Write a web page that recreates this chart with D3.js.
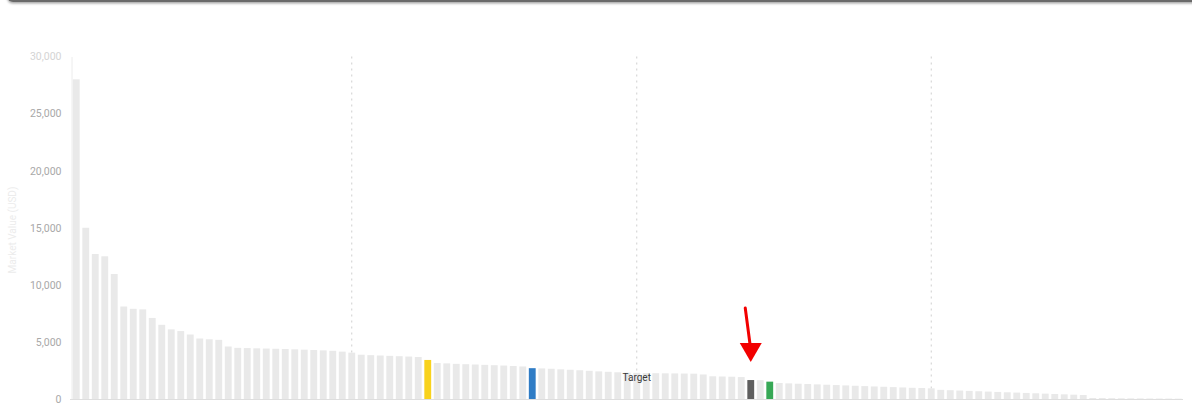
<!DOCTYPE html>
<html>
<head>
<meta charset="utf-8">
<script src="https://cdn.jsdelivr.net/npm/d3@7"></script>
<style>
  body { margin: 0; background: #fff; font-family: Roboto, "Noto Sans", sans-serif; }
  svg { display: block; }
</style>
</head>
<body>
<svg id="chart" width="1192" height="403"></svg>
<script>
// Ranked values, largest first
const values = [
  28000, 15000, 12700, 12500, 10950, 8100, 7900, 7850, 7100, 6500,
  6100, 5950, 5650, 5300, 5230, 5180, 4600, 4480, 4460, 4440,
  4420, 4400, 4380, 4350, 4320, 4290, 4260, 4220, 4150, 4060,
  3880, 3840, 3810, 3780, 3750, 3720, 3680, 3420, 3150, 3120,
  3080, 3050, 3020, 2990, 2960, 2930, 2890, 2850, 2700, 2680,
  2650, 2600, 2560, 2520, 2470, 2420, 2380, 2340, 2310, 2290,
  2270, 2260, 2250, 2240, 2230, 2220, 2150, 1990, 1970, 1950,
  1920, 1660, 1650, 1520, 1400, 1370, 1340, 1310, 1280, 1250,
  1220, 1190, 1160, 1130, 1100, 1070, 1040, 1010, 980, 960,
  935, 800, 770, 740, 710, 680, 650, 620, 590, 560,
  530, 500, 470, 440, 410, 380, 350, 90, 80, 70,
  60, 55, 50, 45, 40, 35, 30
];

// Bars singled out with their own colour
const highlightIdx = [37, 48, 71, 73];
const highlightColors = ["#f8d21c", "#2f7cc5", "#5e5e5e", "#37a856"];

// Dotted vertical guides and the labelled one
const guideIdx = [29, 59, 90];
const targetIdx = 59;
const targetLabel = "Target";

// Bar pointed at by the red arrow
const arrowIdx = 71;

const yTicks = [0, 5000, 10000, 15000, 20000, 25000, 30000];
const yTitle = "Market Value (USD)";

const svg = d3.select("#chart");

// Card edge across the top
const defs = svg.append("defs");
const sh = defs.append("filter").attr("id", "cardShadow")
  .attr("x", "-5%").attr("y", "-50%").attr("width", "110%").attr("height", "300%");
sh.append("feDropShadow").attr("dx", 0).attr("dy", 1.5).attr("stdDeviation", 1.2)
  .attr("flood-color", "#000").attr("flood-opacity", 0.35);
svg.append("rect")
  .attr("x", 7).attr("y", -30).attr("width", 1200).attr("height", 32)
  .attr("rx", 6).attr("fill", "#6a6a6a").attr("filter", "url(#cardShadow)");

const x = d3.scaleBand()
  .domain(d3.range(values.length))
  .range([71.5, 1183])
  .paddingInner(0.28)
  .paddingOuter(0.14);

const y = d3.scaleLinear().domain([0, 30000]).range([399, 56.5]);

const cx = i => x(i) + x.bandwidth() / 2;

// Y axis
const yAxis = svg.append("g")
  .attr("transform", "translate(71.5,0)")
  .call(d3.axisLeft(y).tickValues(yTicks).tickFormat(d3.format(",")).tickSize(0).tickPadding(10));
yAxis.select(".domain").attr("stroke", "#ececec").attr("stroke-width", 1);
yAxis.selectAll("text")
  .attr("fill", d => d === 30000 ? "#d4d4d4" : "#a8a8a8")
  .attr("font-size", 10.5)
  .attr("font-family", "Roboto, sans-serif");

svg.append("text")
  .attr("transform", "translate(16,230) rotate(-90)")
  .attr("text-anchor", "middle")
  .attr("fill", "#ececec")
  .attr("font-size", 10)
  .text(yTitle);

// Dotted guides
svg.append("g").selectAll("line")
  .data(guideIdx)
  .join("line")
  .attr("x1", d => cx(d)).attr("x2", d => cx(d))
  .attr("y1", y(30000)).attr("y2", y(0))
  .attr("stroke", "#cfcfcf")
  .attr("stroke-width", 1)
  .attr("stroke-dasharray", "2,4");

// Bars
const colorOf = i => {
  const k = highlightIdx.indexOf(i);
  return k >= 0 ? highlightColors[k] : "#e9e9e9";
};
svg.append("g").selectAll("rect")
  .data(values)
  .join("rect")
  .attr("x", (d, i) => x(i))
  .attr("y", d => y(d))
  .attr("width", x.bandwidth())
  .attr("height", d => y(0) - y(d))
  .attr("fill", (d, i) => colorOf(i));

// Baseline
svg.append("line")
  .attr("x1", 70).attr("x2", 1183)
  .attr("y1", y(0) + 0.5).attr("y2", y(0) + 0.5)
  .attr("stroke", "#dedede").attr("stroke-width", 1);

// Target label
svg.append("text")
  .attr("x", cx(targetIdx))
  .attr("y", y(values[targetIdx]) + 8)
  .attr("text-anchor", "middle")
  .attr("fill", "#3a3a3a")
  .attr("font-size", 10)
  .text(targetLabel);

// Red arrow pointing at the marked bar
const ax = cx(arrowIdx);
const tipY = y(values[arrowIdx]) - 18;
const arrow = svg.append("g").attr("fill", "#f20000").attr("stroke", "#f20000");
arrow.append("line")
  .attr("x1", ax - 5.5).attr("y1", tipY - 54)
  .attr("x2", ax - 0.5).attr("y2", tipY - 16)
  .attr("stroke-width", 3).attr("stroke-linecap", "round");
arrow.append("path")
  .attr("stroke", "none")
  .attr("d", d3.line()([[ax - 11, tipY - 19], [ax + 11, tipY - 19], [ax, tipY]]) + "Z");
</script>
</body>
</html>
